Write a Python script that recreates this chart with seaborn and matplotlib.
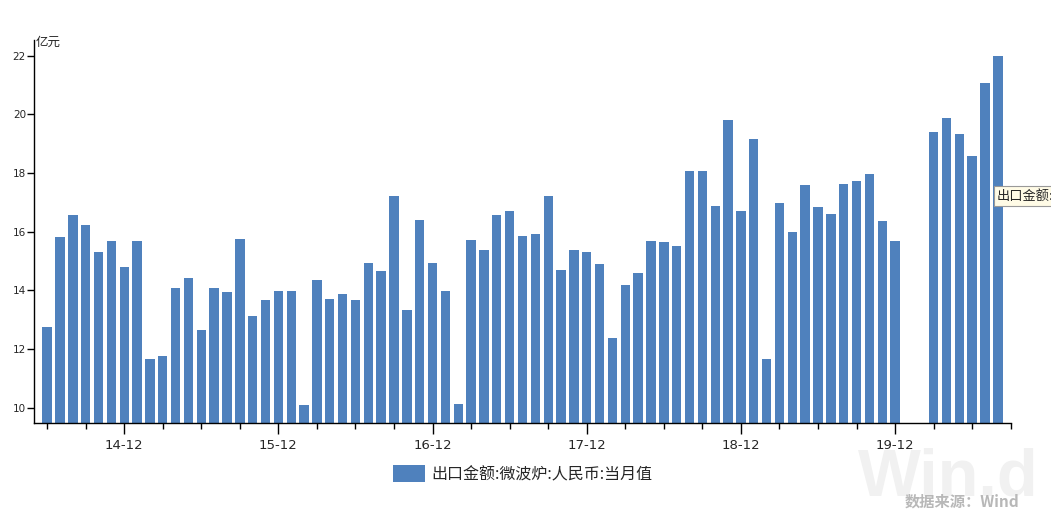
import numpy as np
import pandas as pd
import matplotlib
matplotlib.use("Agg")
import matplotlib.pyplot as plt
from matplotlib.patches import Patch
from matplotlib.ticker import FixedLocator, NullFormatter
import seaborn as sns

# ---- data (monthly, 2014-06 .. 2020-08; Jan/Feb 2020 not reported) ----
months = [f"{y % 100:02d}-{m:02d}" for y in range(2014, 2021) for m in range(1, 13)]
months = months[months.index("14-06"):months.index("20-08") + 1]
values = [
    12.75, 15.81, 16.57, 16.22, 15.31, 15.68, 14.80,   # 14-06..14-12
    15.68, 11.66, 11.76, 14.08, 14.42, 12.65, 14.08, 13.94, 15.75, 13.13, 13.67, 13.98,  # 2015
    13.98, 10.09, 14.35, 13.70, 13.88, 13.67, 14.93, 14.66, 17.23, 13.33, 16.40, 14.93,  # 2016
    13.98, 10.13, 15.72, 15.38, 16.57, 16.70, 15.85, 15.92, 17.23, 14.69, 15.38, 15.31,  # 2017
    14.90, 12.38, 14.18, 14.59, 15.68, 15.65, 15.51, 18.05, 18.07, 16.89, 19.81, 16.70,  # 2018
    19.16, 11.66, 16.98, 15.99, 17.59, 16.84, 16.60, 17.63, 17.73, 17.97, 16.36, 15.68,  # 2019
    np.nan, np.nan, 19.40, 19.88, 19.33, 18.58, 21.07, 21.99,                          # 2020
]
yticks = [10, 12, 14, 16, 18, 20, 22]
series_name = "出口金额:微波炉:人民币:当月值"
unit = "亿元"

df = pd.DataFrame({"month": months, "value": values})

sns.set_theme(style="white")
plt.rcParams["font.family"] = ["DejaVu Sans", "Noto Sans CJK SC"]
CJK = ["Noto Sans CJK SC", "DejaVu Sans"]

W, H = 1051, 512
fig = plt.figure(figsize=(W / 100, H / 100), dpi=100)
ax = fig.add_axes([34.3 / W, 1 - 423.3 / H, (1010.7 - 34.3) / W, (423.3 - 40) / H])

bar_color = "#4F81BD"
sns.barplot(data=df, x="month", y="value", order=months, color=bar_color,
            width=0.73, saturation=1, ax=ax, errorbar=None, linewidth=0)

ax.set_xlim(-1, len(months))
ax.set_ylim(9.47, 22.53)
ax.set_xlabel("")
ax.set_ylabel("")

# x ticks: labelled every December, minor tick every 3 months
major_idx = [i for i, m in enumerate(months) if m.endswith("-12")]
minor_idx = [i for i in range(0, len(months) + 1, 3) if i not in major_idx]
ax.xaxis.set_major_locator(FixedLocator(major_idx))
ax.set_xticklabels([months[i] for i in major_idx])
ax.xaxis.set_minor_locator(FixedLocator(minor_idx))
ax.xaxis.set_minor_formatter(NullFormatter())
ax.tick_params(axis="x", which="major", direction="out", length=8, width=1,
               color="black", labelsize=9.5, pad=3, bottom=True)
ax.tick_params(axis="x", which="minor", direction="out", length=4, width=1,
               color="black", bottom=True)

ax.set_yticks(yticks)
ax.set_yticklabels([str(t) for t in yticks])
ax.tick_params(axis="y", direction="out", length=5, width=1, color="black",
               labelsize=7.5, pad=1, left=True)

for s in ["top", "right"]:
    ax.spines[s].set_visible(False)
for s in ["left", "bottom"]:
    ax.spines[s].set_color("black")
    ax.spines[s].set_linewidth(1)
ax.grid(False)

# unit label
fig.text(36 / W, 1 - 42 / H, unit, fontsize=9, ha="left", va="center", family=CJK)

# legend
handle = Patch(facecolor=bar_color, edgecolor="none")
fig.legend([handle], [series_name], loc="center",
           bbox_to_anchor=(523 / W, 1 - 474 / H), frameon=False,
           handlelength=2.0, handleheight=1.3, handletextpad=0.4,
           prop={"family": CJK, "size": 11.5})

# watermark
fig.text(858 / W, 1 - 496 / H, "Win.d", fontsize=48, fontweight="bold",
         family=["Liberation Sans", "DejaVu Sans"],
         color="#f1f1f1", ha="left", va="baseline", zorder=-1)
fig.text(905 / W, 1 - 502 / H, "数据来源：Wind", fontsize=11, fontweight="bold",
         color="#b8b8b8", ha="left", va="center", family=CJK)

# tooltip fragment at right edge
fig.text(997 / W, 1 - 196 / H, "出口金额:", fontsize=9.5, ha="left", va="center",
         family=CJK,
         bbox=dict(boxstyle="square,pad=0.25", facecolor="#fffbe6",
                   edgecolor="#999999", linewidth=0.8))

fig.savefig("out.png", dpi=100)
